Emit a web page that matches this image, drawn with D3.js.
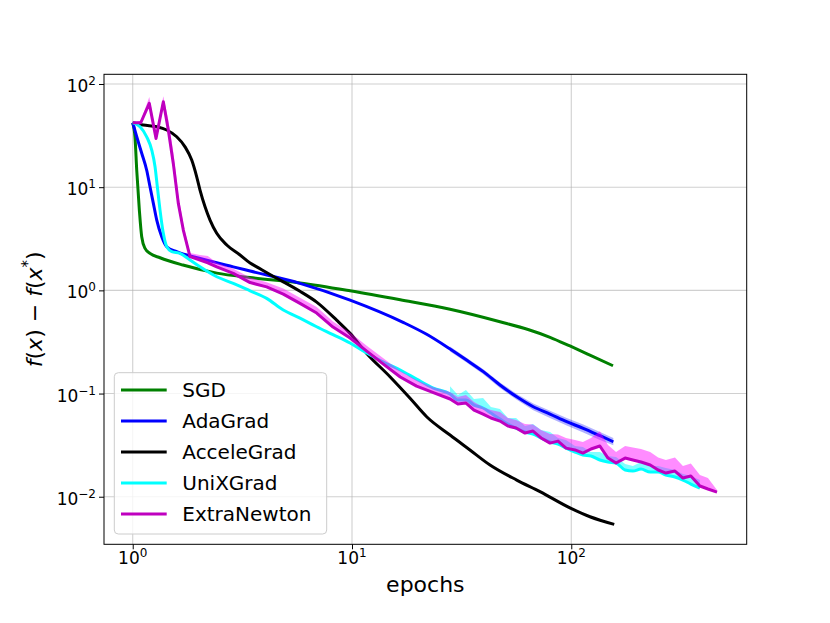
<!DOCTYPE html>
<html>
<head>
<meta charset="utf-8">
<script src="https://cdn.jsdelivr.net/npm/d3@7"></script>
<style>
  body { margin: 0; background: #fff; }
  text { font-family: "DejaVu Sans", sans-serif; }
</style>
</head>
<body>
<div id="chart"></div>
<script>
// values (epochs, f(x) - f(x*))
var sgd_epoch = [1, 1.024, 1.043, 1.072, 1.099, 1.138, 1.199, 1.332, 1.694, 2.42, 3.43, 5.79, 9.8, 16.6, 28.0, 47.3, 64, 80, 98.6, 121.6, 155];
var sgd_loss  = [42.1, 30.6, 14.6, 6.0, 3.31, 2.55, 2.28, 2.07, 1.76, 1.47, 1.33, 1.18, 0.99, 0.81, 0.655, 0.496, 0.415, 0.351, 0.289, 0.236, 0.186];

var ada_epoch = [1, 1.043, 1.099, 1.158, 1.199, 1.242, 1.287, 1.356, 1.429, 1.587, 2.03, 2.875, 3.43, 5.79, 9.8, 17.1, 21.9, 28, 33.3, 39.7, 47.3, 56.4, 67.1, 80, 95.3, 113.4, 135.2, 155.5];
var ada_loss  = [42.1, 30.8, 21.3, 14.6, 10.1, 6.97, 4.80, 3.31, 2.65, 2.37, 2.04, 1.69, 1.54, 1.17, 0.805, 0.49, 0.375, 0.27, 0.211, 0.163, 0.121, 0.093, 0.0745, 0.0633, 0.0533, 0.046, 0.039, 0.0341];
// spread band over the last points of AdaGrad
var ada_band_lo = [0.255, 0.200, 0.154, 0.113, 0.087, 0.069, 0.058, 0.049, 0.042, 0.0355, 0.0315];
var ada_band_hi = [0.285, 0.222, 0.172, 0.128, 0.099, 0.080, 0.068, 0.058, 0.050, 0.0425, 0.037];

var acc_epoch = [1, 1.118, 1.287, 1.429, 1.587, 1.732, 1.858, 1.958, 2.027, 2.137, 2.252, 2.416, 2.684, 3.087, 3.43, 3.677, 4.536, 4.86, 5.79, 6.9, 8.51, 9.8, 11.67, 14.9, 18.4, 21.9, 28, 34.5, 42.6, 56.4, 72, 99.7, 121.7, 157];
var acc_loss  = [42.1, 40, 38.5, 35.8, 30.8, 24.6, 18.3, 12.6, 9.37, 6.46, 4.80, 3.57, 2.75, 2.20, 1.84, 1.69, 1.31, 1.21, 0.98, 0.77, 0.515, 0.383, 0.245, 0.1455, 0.09, 0.0596, 0.0396, 0.0284, 0.0203, 0.0145, 0.0112, 0.0077, 0.0064, 0.0054];

var uni_epoch = [1, 1.08, 1.158, 1.221, 1.264, 1.295, 1.332, 1.379, 1.429, 1.506, 1.643, 1.825, 2.027, 2.416, 2.875, 3.43, 4.08, 4.86, 5.79, 6.9, 8.19, 9.8, 11.67, 13.9, 16.6, 19.7, 23.5,
  28, 30.4, 33.1, 36.0, 39.6, 43.0, 47.3, 51.4, 56.0, 61.5, 66.9, 72.8, 80.0, 87.0, 94.6, 104, 113, 123, 135, 147, 160, 176, 191, 208, 229, 249, 270, 297, 323, 351, 386];
var uni_loss  = [42.1, 38.5, 30.8, 22.9, 15.8, 10.1, 6.0, 3.57, 2.65, 2.37, 2.28, 1.97, 1.69, 1.355, 1.17, 0.99, 0.837, 0.645, 0.539, 0.444, 0.373, 0.309, 0.247, 0.2018, 0.169, 0.138, 0.113,
  0.0989, 0.0865, 0.0865, 0.0774, 0.0724, 0.0647, 0.0566, 0.0506, 0.0463, 0.0424, 0.0405, 0.0371, 0.0339, 0.0324, 0.0296, 0.0271, 0.0254, 0.0248, 0.0227, 0.0217, 0.0212, 0.01815, 0.01774, 0.01855, 0.01735, 0.01735, 0.01623, 0.01552, 0.0145, 0.01327, 0.01214];
// upper edge of the UniXGrad band (last 31 points)
var uni_band_hi = [0.118, 0.0967, 0.108, 0.0886, 0.0904, 0.0740, 0.0708, 0.0579, 0.0579, 0.0484, 0.0506, 0.0443, 0.0424, 0.0371, 0.0354, 0.0310, 0.0303, 0.0271, 0.0271, 0.0248, 0.0243, 0.02075, 0.0198, 0.0217, 0.0198, 0.0198, 0.01897, 0.01815, 0.0166, 0.01587, 0.0145];

var en_epoch = [1, 1.088, 1.19, 1.277, 1.379, 1.453, 1.531, 1.614, 1.701, 1.825, 2.027, 2.2, 2.416, 2.875, 3.43, 4.08, 4.86, 5.79, 6.9, 8.19, 9.8, 11.67, 13.9, 16.6, 19.7, 23.5,
  28, 30.4, 33.1, 36.0, 39.6, 43.0, 47.3, 51.4, 56.0, 61.5, 66.9, 72.8, 80.0, 87.0, 94.6, 104, 113, 123, 135, 147, 160, 176, 191, 208, 229, 249, 270, 297, 323, 351, 386, 420, 462];
var en_loss  = [42.1, 42.1, 64.9, 29.7, 67.2, 35.8, 17.0, 6.97, 3.84, 2.12, 1.97, 1.85, 1.69, 1.46, 1.19, 1.08, 0.92, 0.748, 0.603, 0.441, 0.345, 0.258, 0.193, 0.1445, 0.118, 0.102,
  0.0886, 0.0791, 0.0809, 0.0692, 0.0633, 0.0579, 0.0541, 0.0484, 0.0463, 0.0414, 0.0433, 0.0371, 0.0331, 0.0346, 0.0296, 0.0284, 0.0265, 0.0290, 0.0310, 0.0237, 0.0212, 0.0237, 0.0227, 0.0217, 0.0203, 0.01815, 0.01697, 0.01774, 0.01518, 0.01587, 0.0127, 0.01188, 0.0111];
var en_band_hi = [42.1, 44, 75, 33, 76, 45, 22, 8.5, 4.4, 2.3, 2.2, 2.15, 1.85, 1.62, 1.33, 1.2, 1.04, 0.85, 0.69, 0.5, 0.39, 0.29, 0.22, 0.165, 0.135, 0.115,
  0.1034, 0.0925, 0.0967, 0.0827, 0.0740, 0.0692, 0.0662, 0.0579, 0.0554, 0.0506, 0.0500, 0.0443, 0.0405, 0.0400, 0.0371, 0.0354, 0.0339, 0.0370, 0.0430, 0.0317, 0.0271, 0.0310, 0.0300, 0.0290, 0.0272, 0.0240, 0.0227, 0.0240, 0.0198, 0.0210, 0.01623, 0.01518, 0.0116];

var series_names  = ["SGD", "AdaGrad", "AcceleGrad", "UniXGrad", "ExtraNewton"];
var series_colors = ["#008000", "#0000ff", "#000000", "#00ffff", "#bf00bf"];
var band_colors   = ["#008000", "#0000ff", "#000000", "#00ffff", "#ff00ff"];
var band_opacity  = [0.3, 0.3, 0.3, 0.5, 0.45];

var x_major = [1, 10, 100];
var x_major_exp = ["0", "1", "2"];
var y_major = [0.01, 0.1, 1, 10, 100];
var y_major_exp = ["\u22122", "\u22121", "0", "1", "2"];

var svg_width = 830, svg_height = 623;
var plot_left = 104, plot_right = 746.7, plot_top = 74.3, plot_bottom = 544.3;

var svg = d3.select("#chart").append("svg")
  .attr("width", svg_width)
  .attr("height", svg_height);

var x = d3.scaleLog()
  .domain([Math.pow(10, -0.131), Math.pow(10, 2.8)])
  .range([plot_left, plot_right]);
var y = d3.scaleLog()
  .domain([Math.pow(10, -2.461), Math.pow(10, 2.094)])
  .range([plot_bottom, plot_top]);

svg.append("clipPath").attr("id", "plot-clip")
  .append("rect")
  .attr("x", plot_left).attr("y", plot_top)
  .attr("width", plot_right - plot_left).attr("height", plot_bottom - plot_top);

// minor ticks: 2..9 in every decade inside the domain
function minor_ticks (scale) {
  var d = scale.domain(), out = [];
  for (var e = -4; e <= 4; e++) {
    for (var k = 2; k <= 9; k++) {
      var v = k*Math.pow(10, e);
      if (v >= d[0] && v <= d[1]) out.push(v);
    }
  }
  return out;
}

// grid
var grid = svg.append("g").attr("class", "grid");
grid.selectAll(".gx").data(x_major).enter().append("line")
  .attr("x1", function (d) { return x(d); }).attr("x2", function (d) { return x(d); })
  .attr("y1", plot_top).attr("y2", plot_bottom)
  .attr("stroke", "#b0b0b0").attr("stroke-opacity", 0.6).attr("stroke-width", 1.1);
grid.selectAll(".gy").data(y_major).enter().append("line")
  .attr("x1", plot_left).attr("x2", plot_right)
  .attr("y1", function (d) { return y(d); }).attr("y2", function (d) { return y(d); })
  .attr("stroke", "#b0b0b0").attr("stroke-opacity", 0.6).attr("stroke-width", 1.1);

var plot = svg.append("g").attr("clip-path", "url(#plot-clip)");

var line_smooth = d3.line()
  .curve(d3.curveMonotoneX)
  .x(function (d) { return x(d[0]); })
  .y(function (d) { return y(d[1]); });
var line_sharp = d3.line()
  .x(function (d) { return x(d[0]); })
  .y(function (d) { return y(d[1]); });
var area = d3.area()
  .x(function (d) { return x(d[0]); })
  .y0(function (d) { return y(d[1]); })
  .y1(function (d) { return y(d[2]); });

// band is aligned with the end of the series
function draw_series (epochs, loss, band_lo, band_hi, idx, smooth) {
  if (band_hi) {
    var off = epochs.length - band_hi.length;
    var band_data = band_hi.map(function (h, i) {
      return [epochs[off + i], band_lo ? band_lo[i] : loss[off + i], h];
    });
    plot.append("path")
      .datum(band_data)
      .attr("d", area)
      .attr("fill", band_colors[idx])
      .attr("fill-opacity", band_opacity[idx])
      .attr("stroke", "none");
  }
  plot.append("path")
    .datum(epochs.map(function (e, i) { return [e, loss[i]]; }))
    .attr("d", smooth ? line_smooth : line_sharp)
    .attr("fill", "none")
    .attr("stroke", series_colors[idx])
    .attr("stroke-width", 3)
    .attr("stroke-linejoin", "round")
    .attr("stroke-linecap", "butt");
}

draw_series(sgd_epoch, sgd_loss, null, null, 0, true);
draw_series(ada_epoch, ada_loss, ada_band_lo, ada_band_hi, 1, true);
draw_series(acc_epoch, acc_loss, null, null, 2, true);
draw_series(uni_epoch, uni_loss, null, uni_band_hi, 3, true);
draw_series(en_epoch, en_loss, null, en_band_hi, 4, false);

// axes
var x_axis_g = svg.append("g").attr("transform", "translate(0," + plot_bottom + ")");
x_axis_g.call(d3.axisBottom(x).tickValues(minor_ticks(x)).tickSize(3).tickFormat(""));
x_axis_g.call(d3.axisBottom(x).tickValues(x_major).tickSize(5).tickFormat(""));
var y_axis_g = svg.append("g").attr("transform", "translate(" + plot_left + ",0)");
y_axis_g.call(d3.axisLeft(y).tickValues(minor_ticks(y)).tickSize(3).tickFormat(""));
y_axis_g.call(d3.axisLeft(y).tickValues(y_major).tickSize(5).tickFormat(""));
svg.selectAll(".domain").remove();
svg.selectAll(".tick line").attr("stroke", "#000").attr("stroke-width", 1);

svg.append("rect")
  .attr("x", plot_left).attr("y", plot_top)
  .attr("width", plot_right - plot_left).attr("height", plot_bottom - plot_top)
  .attr("fill", "none").attr("stroke", "#000").attr("stroke-width", 1);

// tick labels 10^k
x_major.forEach(function (v, i) {
  var t = svg.append("text")
    .attr("x", x(v)).attr("y", plot_bottom + 20)
    .attr("text-anchor", "middle")
    .attr("font-size", 17);
  t.append("tspan").text("10");
  t.append("tspan").attr("dy", -7).attr("font-size", 12).text(x_major_exp[i]);
});
y_major.forEach(function (v, i) {
  var t = svg.append("text")
    .attr("x", plot_left - 8).attr("y", y(v) + 8)
    .attr("text-anchor", "end")
    .attr("font-size", 17);
  t.append("tspan").text("10");
  t.append("tspan").attr("dy", -7).attr("font-size", 12).text(y_major_exp[i]);
});

// axis labels
svg.append("text")
  .attr("x", (plot_left + plot_right)/2).attr("y", 592)
  .attr("text-anchor", "middle")
  .attr("font-size", 22)
  .text("epochs");

var ylab = svg.append("text")
  .attr("transform", "translate(42," + ((plot_top + plot_bottom)/2) + ") rotate(-90)")
  .attr("text-anchor", "middle")
  .attr("font-size", 22);
ylab.append("tspan").attr("font-style", "italic").text("f");
ylab.append("tspan").text("(");
ylab.append("tspan").attr("font-style", "italic").text("x");
ylab.append("tspan").text(") \u2212 ");
ylab.append("tspan").attr("font-style", "italic").text("f");
ylab.append("tspan").text("(");
ylab.append("tspan").attr("font-style", "italic").text("x");
ylab.append("tspan").attr("dy", -9).attr("font-size", 15).text("*");
ylab.append("tspan").attr("dy", 9).text(")");

// legend
var legend = svg.append("g");
legend.append("rect")
  .attr("x", 114.3).attr("y", 372.7)
  .attr("width", 212.4).attr("height", 161.3)
  .attr("rx", 4).attr("ry", 4)
  .attr("fill", "#fff").attr("fill-opacity", 0.8)
  .attr("stroke", "#cccccc").attr("stroke-width", 1);
series_names.forEach(function (name, i) {
  var cy = 390 + i*31;
  legend.append("line")
    .attr("x1", 121).attr("x2", 166.7)
    .attr("y1", cy).attr("y2", cy)
    .attr("stroke", series_colors[i]).attr("stroke-width", 3);
  legend.append("text")
    .attr("x", 182.3).attr("y", cy + 7.3)
    .attr("font-size", 20)
    .text(name);
});
</script>
</body>
</html>
